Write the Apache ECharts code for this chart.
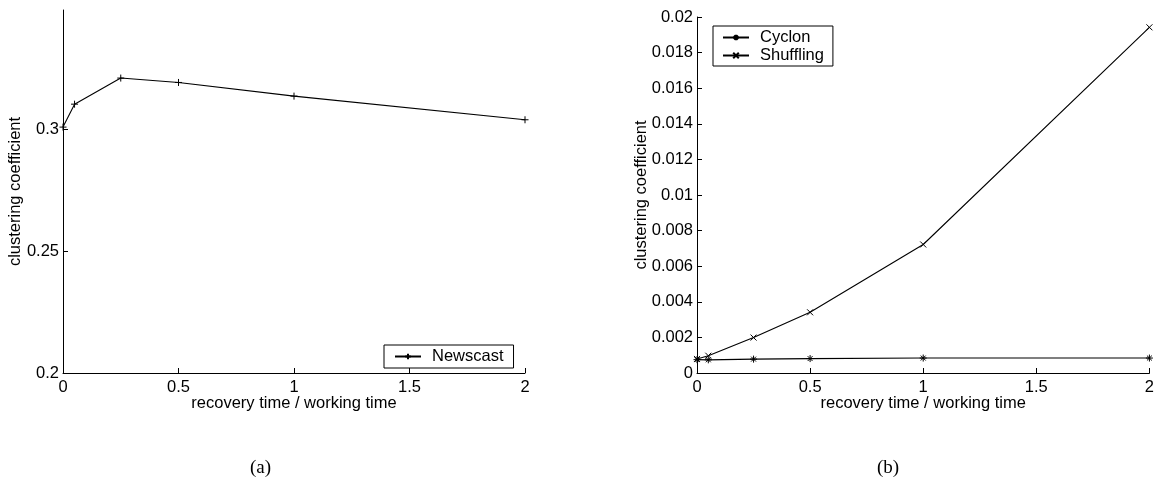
<!DOCTYPE html>
<html>
<head>
<meta charset="utf-8">
<script src="https://cdn.jsdelivr.net/npm/echarts@6/dist/echarts.min.js"></script>
<style>
  html, body { margin: 0; padding: 0; background: #fff; }
  #chart { width: 1157px; height: 484px; }
</style>
</head>
<body>
<div id="chart"></div>
<script>
  // x values shared by both panels (recovery time / working time)
  var xValues = [0, 0.05, 0.25, 0.5, 1, 2];
  // panel (a)
  var newscast = [0.3008, 0.3102, 0.3209, 0.3191, 0.3135, 0.3038];
  var leftYTicks = [0.2, 0.25, 0.3];
  // panel (b)
  var cyclon = [0.00075, 0.00074, 0.00078, 0.00081, 0.00084, 0.00084];
  var shuffling = [0.00079, 0.00097, 0.00199, 0.00341, 0.00722, 0.01942];

  var FONT = 'Liberation Sans';

  // marker shapes, drawn as strokes
  var plusMark = 'path://M0,5L10,5M5,0L5,10';
  var crossMark = 'path://M0,0L10,10M10,0L0,10';
  var starMark = 'path://M0,5L10,5M5,0L5,10M1.5,1.5L8.5,8.5M8.5,1.5L1.5,8.5';

  function pairs(ys) {
    var out = [];
    for (var i = 0; i < xValues.length; i++) {
      out.push([xValues[i], ys[i]]);
    }
    return out;
  }

  function xAxisOf(gridIndex) {
    return {
      type: 'value',
      gridIndex: gridIndex,
      min: 0,
      max: 2,
      interval: 0.5,
      name: 'recovery time / working time',
      nameLocation: 'middle',
      nameGap: 22,
      nameMoveOverlap: false,
      nameTextStyle: { color: '#000', fontFamily: FONT, fontSize: 16.5 },
      axisLine: { lineStyle: { color: '#000', width: 1 } },
      axisTick: { inside: true, length: 5, lineStyle: { color: '#000' } },
      axisLabel: { color: '#000', fontFamily: FONT, fontSize: 16.5, margin: 6 },
      splitLine: { show: false }
    };
  }

  function lineSeries(name, x, y, data, mark, size) {
    return {
      name: name,
      type: 'line',
      xAxisIndex: x,
      yAxisIndex: y,
      data: data,
      symbol: mark,
      symbolSize: size,
      showAllSymbol: true,
      lineStyle: { color: '#000', width: 1.1 },
      itemStyle: { color: '#000', borderColor: '#000', borderWidth: 1 }
    };
  }

  var chart = echarts.init(document.getElementById('chart'));

  chart.setOption({
    animation: false,
    backgroundColor: '#fff',
    grid: [
      { left: 63, top: 10, width: 462, height: 363 },
      { left: 697, top: 17, width: 453, height: 356 }
    ],
    xAxis: [xAxisOf(0), xAxisOf(1)],
    yAxis: [
      {
        type: 'value',
        gridIndex: 0,
        min: 0.2,
        max: 0.3488,
        name: 'clustering coefficient',
        nameLocation: 'middle',
        nameGap: 39,
        nameMoveOverlap: false,
        nameTextStyle: { color: '#000', fontFamily: FONT, fontSize: 16.5 },
        axisLine: { show: true, lineStyle: { color: '#000', width: 1 } },
        axisTick: { show: true, inside: true, length: 5, customValues: leftYTicks, lineStyle: { color: '#000' } },
        axisLabel: { color: '#000', fontFamily: FONT, fontSize: 16.5, margin: 4, customValues: leftYTicks },
        splitLine: { show: false }
      },
      {
        type: 'value',
        gridIndex: 1,
        min: 0,
        max: 0.02,
        interval: 0.002,
        name: 'clustering coefficient',
        nameLocation: 'middle',
        nameGap: 47,
        nameMoveOverlap: false,
        nameTextStyle: { color: '#000', fontFamily: FONT, fontSize: 16.5 },
        axisLine: { show: true, lineStyle: { color: '#000', width: 1 } },
        axisTick: { show: true, inside: true, length: 5, lineStyle: { color: '#000' } },
        axisLabel: { color: '#000', fontFamily: FONT, fontSize: 16.5, margin: 4 },
        splitLine: { show: false }
      }
    ],
    legend: [
      {
        data: ['Newscast'],
        left: 384,
        top: 345,
        padding: [3, 10, 3, 10],
        itemWidth: 26,
        itemHeight: 7,
        borderColor: '#000',
        borderWidth: 1,
        backgroundColor: '#fff',
        textStyle: { color: '#000', fontFamily: FONT, fontSize: 16.5, padding: [0, 0, 0, 6] }
      },
      {
        data: ['Cyclon', 'Shuffling'],
        orient: 'vertical',
        left: 713,
        top: 26,
        padding: [3, 9, 2, 9],
        itemGap: 1,
        itemWidth: 26,
        itemHeight: 7,
        borderColor: '#000',
        borderWidth: 1,
        backgroundColor: '#fff',
        textStyle: { color: '#000', fontFamily: FONT, fontSize: 16.5, padding: [0, 0, 0, 6] }
      }
    ],
    graphic: [
      { type: 'text', left: 263 - 13, top: 459, style: { text: '(a)', font: '19px "Liberation Serif"', fill: '#000' } },
      { type: 'text', left: 890 - 13, top: 459, style: { text: '(b)', font: '19px "Liberation Serif"', fill: '#000' } }
    ],
    series: [
      lineSeries('Newscast', 0, 0, pairs(newscast), plusMark, 7),
      lineSeries('Cyclon', 1, 1, pairs(cyclon), starMark, 7),
      lineSeries('Shuffling', 1, 1, pairs(shuffling), crossMark, 6)
    ]
  });
</script>
</body>
</html>
